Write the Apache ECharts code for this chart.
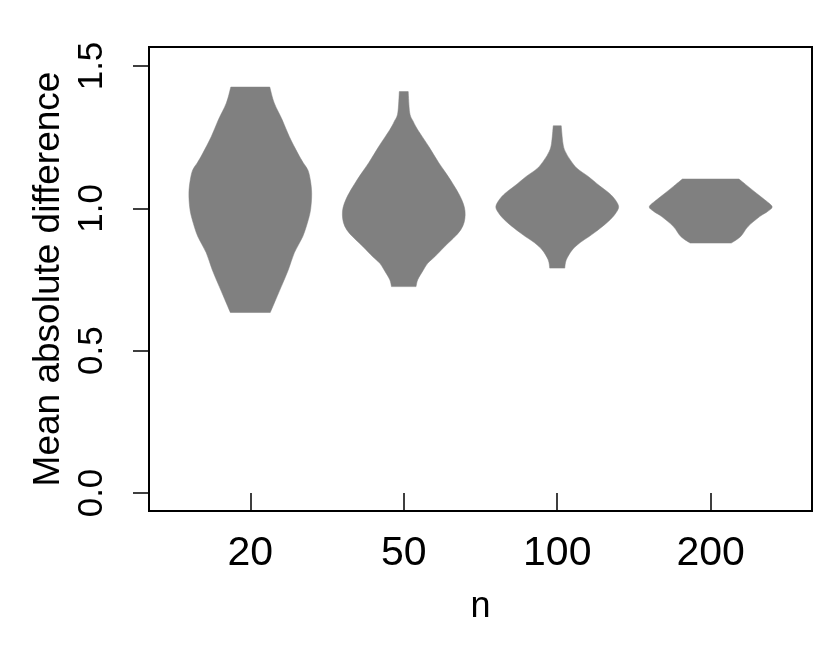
<!DOCTYPE html>
<html>
<head>
<meta charset="utf-8">
<script src="https://cdn.jsdelivr.net/npm/echarts@6/dist/echarts.min.js"></script>
<style>
  html, body { margin: 0; padding: 0; background: #fff; }
  #main { width: 830px; height: 664px; }
</style>
</head>
<body>
<div id="main"></div>
<script>
  // sample sizes on the x axis
  const categories = ['20', '50', '100', '200'];
  const yTicks = [0, 0.5, 1.0, 1.5];

  // violin outlines: y level and half width (x axis units), bottom to top
  const levels20 = [0.634, 0.667, 0.725, 0.784, 0.844, 0.901, 0.96, 1.0, 1.053, 1.10, 1.135, 1.16, 1.194, 1.252, 1.311, 1.37, 1.426];
  const width20  = [0.130, 0.156, 0.202, 0.248, 0.287, 0.342, 0.378, 0.394, 0.400, 0.391, 0.375, 0.345, 0.309, 0.254, 0.208, 0.156, 0.127];

  const levels50 = [0.725, 0.749, 0.78, 0.807, 0.83, 0.866, 0.924, 0.977, 1.03, 1.10, 1.16, 1.217, 1.276, 1.305, 1.335, 1.41];
  const width50  = [0.080, 0.091, 0.124, 0.156, 0.202, 0.267, 0.371, 0.400, 0.378, 0.304, 0.228, 0.163, 0.091, 0.062, 0.039, 0.029];

  const levels100 = [0.79, 0.819, 0.854, 0.88, 0.901, 0.93, 0.96, 0.985, 1.006, 1.03, 1.053, 1.08, 1.112, 1.14, 1.17, 1.20, 1.229, 1.29];
  const width100  = [0.049, 0.059, 0.098, 0.150, 0.208, 0.280, 0.345, 0.384, 0.400, 0.378, 0.339, 0.274, 0.202, 0.130, 0.085, 0.052, 0.037, 0.026];

  const levels200 = [0.878, 0.901, 0.936, 0.971, 0.989, 1.006, 1.03, 1.053, 1.077, 1.103];
  const width200  = [0.134, 0.195, 0.243, 0.319, 0.371, 0.400, 0.352, 0.298, 0.243, 0.184];

  const violinLevels = [levels20, levels50, levels100, levels200];
  const violinWidths = [width20, width50, width100, width200];

  const chart = echarts.init(document.getElementById('main'));

  // catmull-rom through one side of the outline, as bezier path commands
  function sidePath(p) {
    let d = '';
    for (let i = 0; i < p.length - 1; i++) {
      const p0 = p[Math.max(i - 1, 0)], p1 = p[i], p2 = p[i + 1], p3 = p[Math.min(i + 2, p.length - 1)];
      const c1 = [p1[0] + (p2[0] - p0[0]) / 6, p1[1] + (p2[1] - p0[1]) / 6];
      const c2 = [p2[0] - (p3[0] - p1[0]) / 6, p2[1] - (p3[1] - p1[1]) / 6];
      d += ' C' + c1[0] + ' ' + c1[1] + ' ' + c2[0] + ' ' + c2[1] + ' ' + p2[0] + ' ' + p2[1];
    }
    return d;
  }

  function renderViolin(params, api) {
    const i = api.value(0) - 1;
    const ys = violinLevels[i];
    const ws = violinWidths[i];
    const cx = i + 1;
    const right = [], left = [];
    for (let k = 0; k < ys.length; k++) {
      right.push(api.coord([cx + ws[k], ys[k]]));
    }
    for (let k = ys.length - 1; k >= 0; k--) {
      left.push(api.coord([cx - ws[k], ys[k]]));
    }
    const d = 'M' + right[0][0] + ' ' + right[0][1] + sidePath(right) +
      ' L' + left[0][0] + ' ' + left[0][1] + sidePath(left) + ' Z';
    return {
      type: 'path',
      shape: { pathData: d, layout: 'cover' },
      style: { fill: '#808080', stroke: '#808080', lineWidth: 0.5 }
    };
  }

  const font = 'Liberation Sans, Arial, Helvetica, sans-serif';

  const option = {
    animation: false,
    grid: {
      left: 149, right: 18, top: 47, bottom: 153,
      show: true, borderColor: '#000', borderWidth: 2,
      backgroundColor: 'transparent',
      outerBoundsMode: 'none'
    },
    xAxis: {
      type: 'value',
      min: 0.34,
      max: 4.66,
      name: 'n',
      nameLocation: 'middle',
      nameGap: 78,
      nameTextStyle: { fontSize: 36, color: '#000', fontFamily: font },
      axisLine: { show: false },
      splitLine: { show: false },
      axisTick: {
        show: true, length: 17, customValues: [1, 2, 3, 4],
        lineStyle: { color: '#000', width: 1.5 }
      },
      axisLabel: {
        customValues: [1, 2, 3, 4],
        formatter: function (v) { return categories[Math.round(v) - 1]; },
        fontSize: 41, color: '#000', fontFamily: font, margin: 22
      }
    },
    yAxis: {
      type: 'value',
      min: -0.0632,
      max: 1.5667,
      name: 'Mean absolute difference',
      nameLocation: 'middle',
      nameRotate: 90,
      nameGap: 82,
      nameTextStyle: { fontSize: 37, color: '#000', fontFamily: font },
      axisLine: { show: false },
      splitLine: { show: false },
      axisTick: {
        show: true, length: 16, customValues: yTicks,
        lineStyle: { color: '#000', width: 1.5 }
      },
      axisLabel: {
        customValues: yTicks,
        rotate: 90,
        formatter: function (v) { return v.toFixed(1); },
        fontSize: 35, color: '#000', fontFamily: font, margin: 39
      }
    },
    series: [{
      type: 'custom',
      renderItem: renderViolin,
      clip: true,
      encode: { x: 0 },
      data: categories.map(function (c, i) { return [i + 1]; })
    }]
  };

  chart.setOption(option);
</script>
</body>
</html>
